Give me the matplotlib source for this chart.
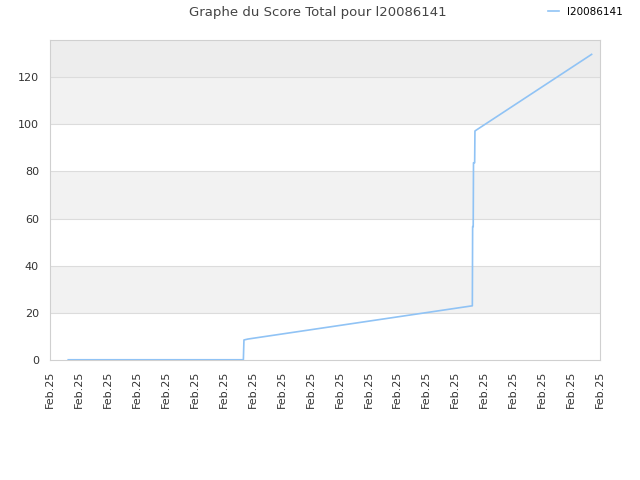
import matplotlib
matplotlib.use("Agg")
from matplotlib import pyplot as plt

# score de l20086141 (positions en unités de graduation)
xs = [0.63, 6.68, 6.70, 6.84, 14.59, 14.60, 14.62, 14.63, 14.67, 14.68, 18.71]
scores = [0.1, 0.1, 8.5, 8.9, 23.0, 56.6, 56.6, 83.7, 83.7, 97.2, 129.7]
tick_labels = ["Feb.25"] * 20
yticks = [0, 20, 40, 60, 80, 100, 120]

fig = plt.figure(figsize=(6.4, 4.8), dpi=100)
ax = fig.add_axes([50 / 640, 120 / 480, 550 / 640, 320 / 480])

ymax = 135.8
# bandes de fond
for lo in [20, 60, 100]:
    ax.axhspan(lo, lo + 20, color="#f2f2f2", zorder=0, lw=0)
ax.axhspan(120, ymax, color="#ededed", zorder=0, lw=0)
for y in yticks[1:]:
    ax.axhline(y, color="#dcdcdc", lw=0.8, zorder=1)

ax.plot(xs, scores, color="#90c3f5", lw=1.2, label="l20086141", zorder=3)

ax.set_xlim(0, 19)
ax.set_ylim(0, ymax)
ax.set_xticks(range(20))
ax.set_xticklabels(tick_labels, rotation=90, fontsize=8, color="#333333")
ax.set_yticks(yticks)
ax.set_yticklabels([str(v) for v in yticks], fontsize=8, color="#333333")
ax.tick_params(length=0, pad=8)
for s in ax.spines.values():
    s.set_color("#d0d0d0")

fig.text(0.497, 0.988, "Graphe du Score Total pour l20086141", ha="center", va="top",
         fontsize=9.5, color="#444444")
fig.legend(loc="upper right", bbox_to_anchor=(0.988, 1.005), frameon=False, fontsize=7.5,
           handlelength=1.0, handletextpad=0.8)

fig.savefig("out.png", dpi=100)
